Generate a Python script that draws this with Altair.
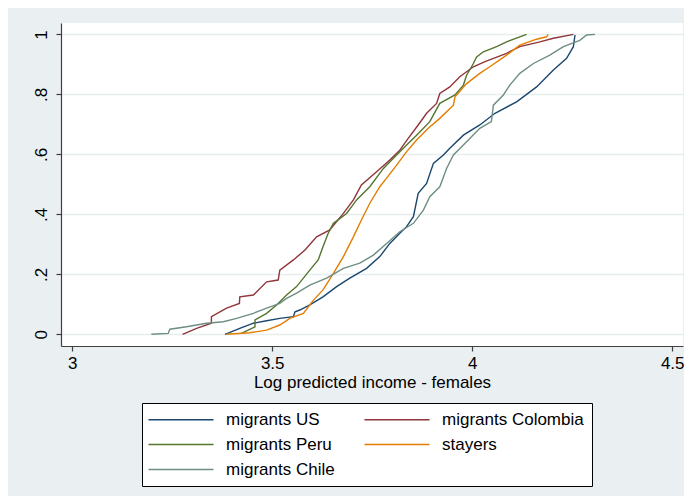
import altair as alt
import pandas as pd

# legend fills column by column: col 1 = US, Peru, Chile ; col 2 = Colombia, stayers
series_names = ["migrants US", "migrants Peru", "migrants Chile", "migrants Colombia", "stayers"]
series_colors = ["#1a476f", "#55752f", "#6e8e84", "#90353b", "#e37e00"]

us_x = [3.382, 3.419, 3.453, 3.486, 3.519, 3.553, 3.557, 3.569, 3.594, 3.627, 3.661, 3.694, 3.736, 3.769,
        3.794, 3.819, 3.836, 3.853, 3.865, 3.886, 3.903, 3.928, 3.944, 3.978, 4.019, 4.057, 4.111, 4.161,
        4.203, 4.236, 4.253, 4.257]
us_y = [0.0, 0.02, 0.037, 0.045, 0.053, 0.059, 0.075, 0.081, 0.098, 0.125, 0.159, 0.187, 0.22, 0.259,
        0.303, 0.337, 0.359, 0.392, 0.47, 0.503, 0.57, 0.598, 0.62, 0.664, 0.698, 0.737, 0.775, 0.825,
        0.881, 0.92, 0.959, 0.998]

col_x = [3.276, 3.311, 3.348, 3.348, 3.386, 3.418, 3.419, 3.453, 3.486, 3.515, 3.519, 3.553, 3.582, 3.611,
         3.644, 3.678, 3.703, 3.723, 3.761, 3.794, 3.819, 3.84, 3.865, 3.886, 3.911, 3.919, 3.944, 3.969,
         4.003, 4.032, 4.086, 4.119, 4.169, 4.203, 4.253]
col_y = [0.0, 0.02, 0.037, 0.059, 0.087, 0.103, 0.125, 0.131, 0.175, 0.181, 0.214, 0.248, 0.281, 0.325,
         0.348, 0.403, 0.448, 0.498, 0.542, 0.581, 0.614, 0.653, 0.698, 0.737, 0.770, 0.803, 0.825, 0.859,
         0.892, 0.909, 0.937, 0.959, 0.975, 0.987, 1.0]

peru_x = [3.423, 3.457, 3.457, 3.486, 3.511, 3.536, 3.561, 3.594, 3.615, 3.627, 3.64, 3.653, 3.686, 3.711,
          3.744, 3.778, 3.803, 3.836, 3.861, 3.894, 3.919, 3.957, 3.978, 3.986, 4.003, 4.011, 4.028, 4.061,
          4.086, 4.119, 4.136]
peru_y = [0.003, 0.025, 0.048, 0.07, 0.098, 0.131, 0.159, 0.214, 0.248, 0.292, 0.337, 0.37, 0.403, 0.448,
          0.492, 0.553, 0.587, 0.631, 0.664, 0.709, 0.77, 0.798, 0.831, 0.864, 0.903, 0.925, 0.942, 0.959,
          0.975, 0.992, 1.0]

stay_x = [3.386, 3.444, 3.486, 3.519, 3.544, 3.578, 3.603, 3.627, 3.653, 3.678, 3.703, 3.723, 3.744, 3.769,
          3.782, 3.811, 3.836, 3.861, 3.89, 3.919, 3.953, 3.957, 3.986, 4.019, 4.044, 4.086, 4.119, 4.161,
          4.186, 4.19]
stay_y = [0.0, 0.005, 0.014, 0.031, 0.053, 0.07, 0.114, 0.148, 0.203, 0.259, 0.325, 0.381, 0.437, 0.492,
          0.514, 0.564, 0.609, 0.648, 0.687, 0.72, 0.764, 0.792, 0.836, 0.87, 0.892, 0.931, 0.964, 0.984,
          0.992, 1.0]

chile_x = [3.198, 3.24, 3.244, 3.286, 3.336, 3.378, 3.411, 3.453, 3.486, 3.519, 3.536, 3.561, 3.594, 3.636,
           3.678, 3.719, 3.753, 3.786, 3.819, 3.853, 3.878, 3.894, 3.919, 3.936, 3.953, 3.986, 4.019, 4.048,
           4.053, 4.078, 4.094, 4.119, 4.153, 4.194, 4.228, 4.269, 4.286, 4.307]
chile_y = [0.0, 0.003, 0.017, 0.025, 0.037, 0.042, 0.053, 0.07, 0.087, 0.103, 0.12, 0.137, 0.164, 0.187,
           0.22, 0.237, 0.264, 0.303, 0.342, 0.37, 0.414, 0.459, 0.492, 0.553, 0.598, 0.642, 0.687, 0.709,
           0.764, 0.798, 0.831, 0.87, 0.903, 0.931, 0.959, 0.98, 0.998, 1.0]

x_ticks = [3, 3.5, 4, 4.5]
y_ticks = [0, 0.2, 0.4, 0.6, 0.8, 1]

rows = []
for name, xs, ys in [("migrants US", us_x, us_y), ("migrants Colombia", col_x, col_y),
                     ("migrants Peru", peru_x, peru_y), ("stayers", stay_x, stay_y),
                     ("migrants Chile", chile_x, chile_y)]:
    for i, (xv, yv) in enumerate(zip(xs, ys)):
        rows.append({"series": name, "x": xv, "y": yv, "i": i})
df = pd.DataFrame(rows)

FONT = "Liberation Sans"

chart = alt.Chart(df).mark_line(strokeWidth=1.4).encode(
    x=alt.X("x:Q",
            scale=alt.Scale(domain=[2.972, 4.527], nice=False, zero=False),
            axis=alt.Axis(values=x_ticks, format=".1~f", title="Log predicted income - females",
                          grid=False, tickSize=5, labelPadding=4, titlePadding=3)),
    y=alt.Y("y:Q",
            scale=alt.Scale(domain=[-0.039, 1.038], nice=False, zero=False),
            axis=alt.Axis(values=y_ticks, title=None, grid=True, tickSize=5, labelAngle=270,
                          labelPadding=6,
                          labelExpr="datum.value == 0 ? '0' : datum.value == 1 ? '1' : '.' + format(datum.value * 10, 'd')")),
    color=alt.Color("series:N",
                    scale=alt.Scale(domain=series_names, range=series_colors),
                    legend=alt.Legend(title=None, orient="none", legendX=81, legendY=380, columns=2,
                                      symbolType="M-2,0H11", symbolSize=100, symbolStrokeWidth=1.5,
                                      labelOffset=59, columnPadding=26, rowPadding=7,
                                      padding=8, fillColor="white", strokeColor="black",
                                      labelFontSize=17, labelFont=FONT, labelColor="black")),
    order="i:Q",
).properties(
    width=622, height=323,
    autosize=alt.AutoSizeParams(type="none"),
    padding={"left": 53, "top": 15, "right": 1, "bottom": 150},
    background="#eaeff2",
).configure_view(
    fill="white", stroke=None,
).configure_axis(
    labelFont=FONT, titleFont=FONT, labelFontSize=17, titleFontSize=17,
    labelColor="black", titleColor="black", titleFontWeight="normal",
    domainColor="#404040", tickColor="#404040", domainWidth=1.2, tickWidth=1.2,
    gridColor="#e6eef0", gridWidth=1.3,
)

chart.save("out.html", embed_options={"renderer": "svg", "actions": False})
